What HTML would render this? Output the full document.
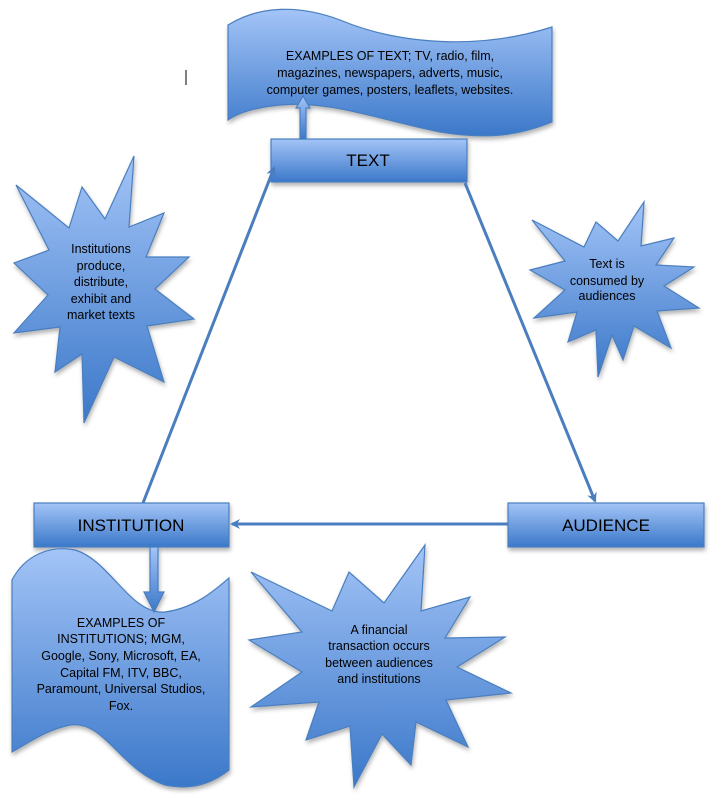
<!DOCTYPE html>
<html><head><meta charset="utf-8"><style>
html,body{margin:0;padding:0;background:#fff;}
svg{display:block;}
text{font-family:"Liberation Sans",sans-serif;fill:#000;text-anchor:middle;}
</style></head><body>
<svg width="713" height="799" viewBox="0 0 713 799" xmlns="http://www.w3.org/2000/svg">
<defs>
<linearGradient id="g" x1="0" y1="0" x2="0" y2="1">
<stop offset="0" stop-color="#a3c4f7"/><stop offset="1" stop-color="#3b78c9"/>
</linearGradient>
<filter id="s" x="-10%" y="-10%" width="130%" height="130%"><feDropShadow dx="1" dy="3" stdDeviation="2" flood-color="#000" flood-opacity="0.3"/></filter>
<marker id="ah" markerWidth="10" markerHeight="10" refX="8" refY="5" orient="auto" markerUnits="userSpaceOnUse"><path d="M0,0 L10,5 L0,10 L3,5 Z" fill="#4a7ebf"/></marker>
</defs>
<g stroke="#4a7ebf" stroke-width="1.2" fill="url(#g)" filter="url(#s)">
<!-- wave top -->
<path d="M228,25 C260,5 300,5 340,20 C400,45 480,50 552,27 L552,122 C520,135 490,140 440,132 C380,120 330,100 280,105 C250,108 235,115 228,120 Z"/>
<!-- left doc -->
<path d="M12,580 C25,555 50,545 75,550 C110,560 130,615 165,612 C195,608 215,590 229,578 L229,770 C210,785 190,790 165,785 C120,770 105,720 70,725 C45,730 25,745 12,752 Z"/>
<!-- stars -->
<polygon points="134,156 129,227 164,213 146,257 189,257 155,289 194,319 147,326 164,382 114,357 84,423 82,354 55,372 60,327 14,333 48,295 14,263 49,250 16,185 69,228 82,187 105,219"/>
<polygon points="644,202 641,246 674,238 656,265 694,267 664,286 699,308 657,311 671,348 634,326 623,360 612,335 598,377 596,330 568,342 577,312 534,318 565,290 530,270 565,261 532,220 584,247 596,222 618,241"/>
<polygon points="425,545 421,611 470,597 445,638 505,637 457,667 511,693 446,700 468,747 416,722 411,765 382,734 354,787 350,726 306,740 319,702 251,707 302,672 249,640 302,632 251,572 332,611 349,572 384,603"/>
<!-- boxes -->
<rect x="271" y="139" width="196" height="43"/>
<rect x="34" y="503" width="195" height="44"/>
<rect x="508" y="503" width="196" height="44"/>
<!-- block arrows -->
<path d="M300,139 L300,108 L296,108 L303,96 L310,108 L306,108 L306,139 Z"/>
<path d="M150,547 L150,592 L144,592 L154,612 L164,592 L158,592 L158,547 Z"/>
</g>
<g stroke="#4a7ebf" stroke-width="3" fill="none">
<line x1="143" y1="503" x2="274" y2="168" marker-end="url(#ah)"/>
<line x1="465" y1="183" x2="595" y2="501" marker-end="url(#ah)"/>
<line x1="508" y1="524" x2="232" y2="524" marker-end="url(#ah)"/>
</g>
<line x1="186" y1="70" x2="186" y2="85" stroke="#000" stroke-width="1"/>
<g font-size="12.5">
<text x="390" y="60">EXAMPLES OF TEXT; TV, radio, film,</text>
<text x="390" y="77">magazines, newspapers, adverts, music,</text>
<text x="390" y="94">computer games, posters, leaflets, websites.</text>
</g>
<text x="368" y="166" font-size="17">TEXT</text>
<text x="131" y="531" font-size="17">INSTITUTION</text>
<text x="606" y="531" font-size="17">AUDIENCE</text>
<g font-size="12.5">
<text x="101" y="253">Institutions</text>
<text x="101" y="270">produce,</text>
<text x="101" y="286">distribute,</text>
<text x="101" y="303">exhibit and</text>
<text x="101" y="319">market texts</text>
<text x="607" y="268">Text is</text>
<text x="607" y="285">consumed by</text>
<text x="607" y="300">audiences</text>
<text x="379" y="634">A financial</text>
<text x="379" y="650">transaction occurs</text>
<text x="379" y="667">between audiences</text>
<text x="379" y="683">and institutions</text>
<text x="121" y="627">EXAMPLES OF</text>
<text x="121" y="643">INSTITUTIONS; MGM,</text>
<text x="121" y="660">Google, Sony, Microsoft, EA,</text>
<text x="121" y="677">Capital FM, ITV, BBC,</text>
<text x="121" y="693">Paramount, Universal Studios,</text>
<text x="121" y="710">Fox.</text>
</g>
</svg>
</body></html>
